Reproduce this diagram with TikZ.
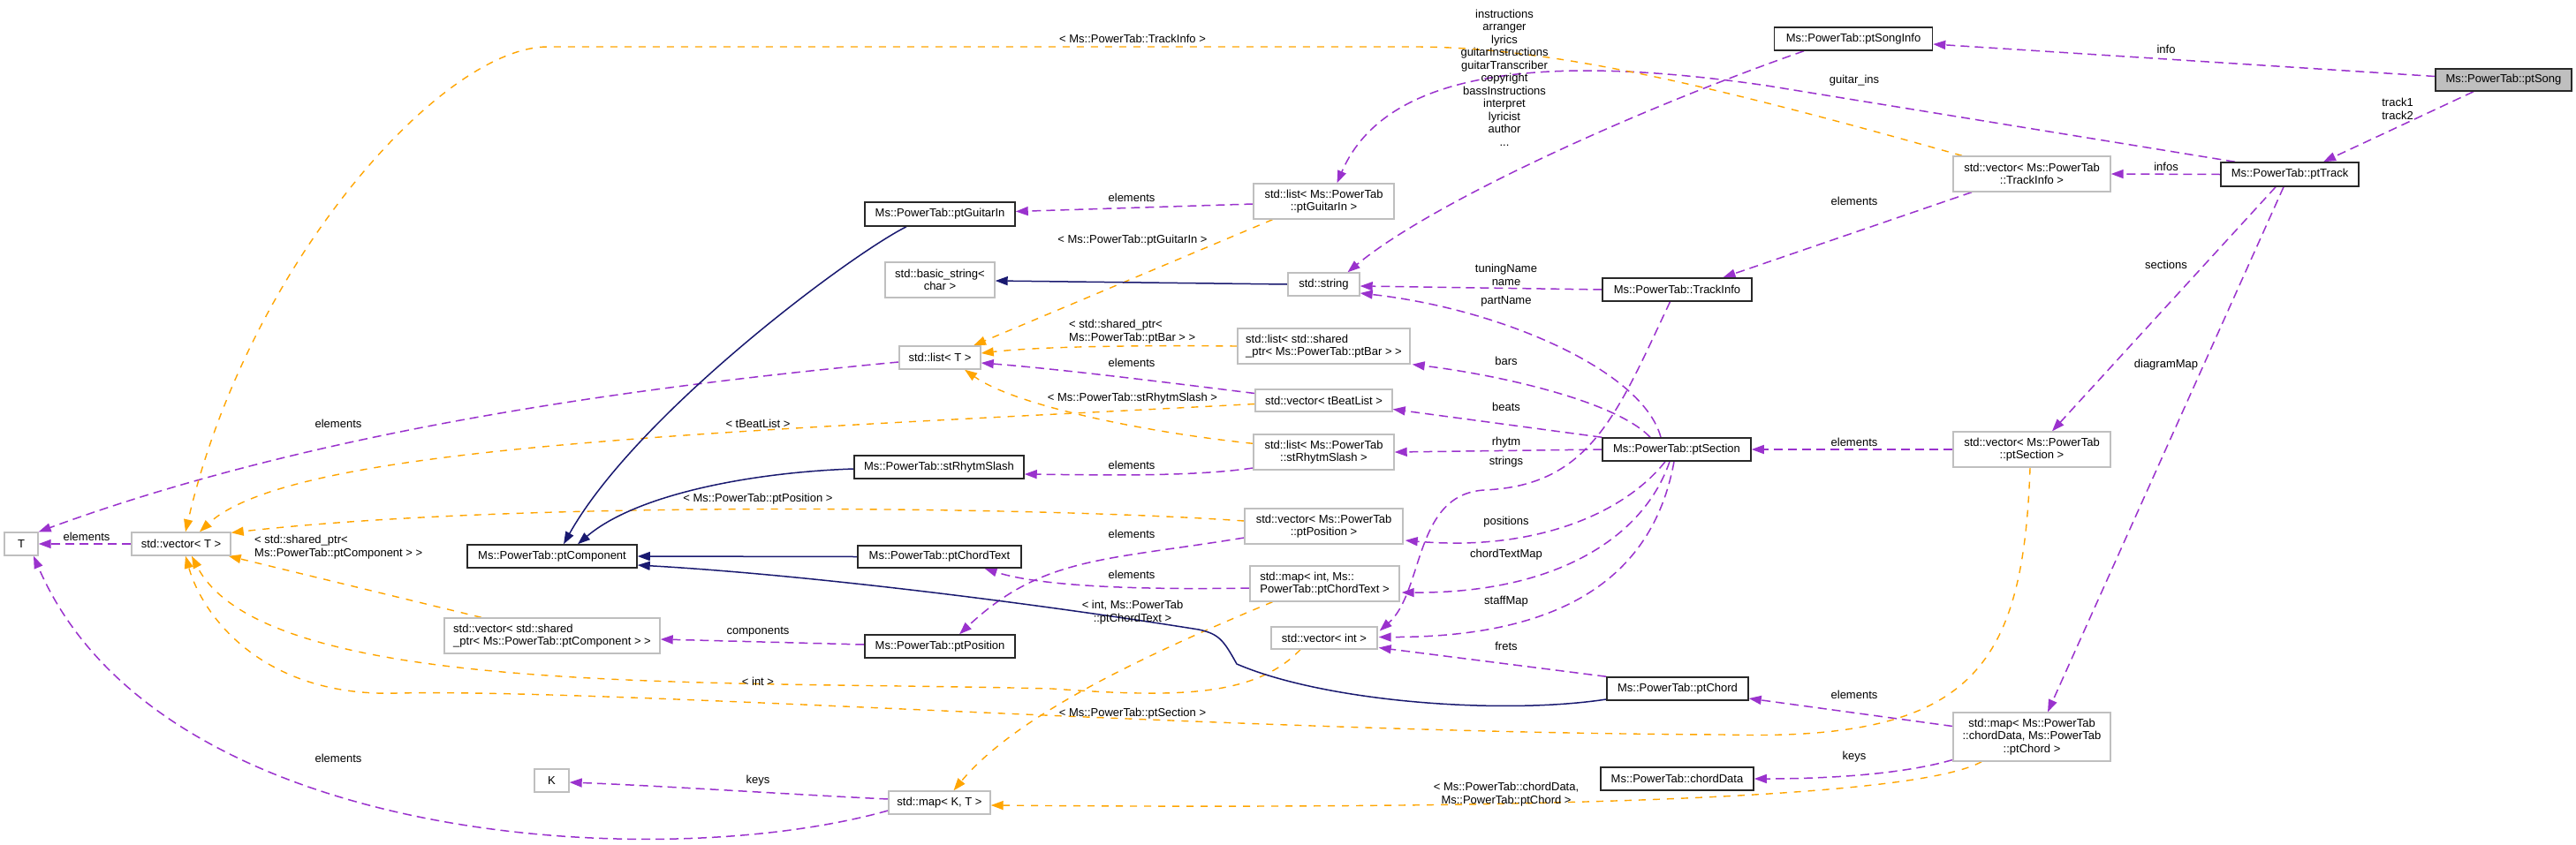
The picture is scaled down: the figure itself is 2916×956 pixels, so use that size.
\documentclass[tikz,border=0pt]{standalone}
\usepackage{fontspec}
\setmainfont{Liberation Sans}
\usetikzlibrary{arrows.meta,calc}
\definecolor{purp}{RGB}{154,50,205}
\definecolor{orng}{RGB}{255,165,0}
\definecolor{navyb}{RGB}{25,25,112}
\definecolor{greyC}{RGB}{191,191,191}
\definecolor{darkb}{RGB}{40,40,40}
\pgfdeclarelayer{bg}
\pgfsetlayers{bg,main}
\begin{document}
\begin{tikzpicture}[x=1pt,y=-1pt,
  every node/.style={font=\fontsize{13}{14.5}\selectfont},
  cls/.style={draw=darkb, line width=1.5pt, fill=white, inner sep=1pt},
  clsg/.style={draw=darkb, line width=1.5pt, fill=greyC, inner sep=1pt},
  ext/.style={draw=greyC, line width=1.4pt, fill=white, inner sep=1pt},
  lbl/.style={inner sep=0pt, align=center},
  usage/.style={draw=purp, line width=1.5pt, dash pattern=on 10pt off 6pt, -{Triangle[length=14pt,width=10pt]}},
  templ/.style={draw=orng, line width=1.4pt, dash pattern=on 8pt off 8pt, -{Triangle[length=14pt,width=10pt]}},
  inher/.style={draw=navyb, line width=1.5pt, -{Triangle[length=14pt,width=10pt]}},
]
\useasboundingbox (0,0) rectangle (2916,956);

% ---------- nodes ----------
\node[clsg, minimum width=154pt, minimum height=25pt] (song) at (2834,90.5) {Ms::PowerTab::ptSong};
\node[cls, minimum width=179pt, minimum height=26pt] (songinfo) at (2098,44) {Ms::PowerTab::ptSongInfo};
\node[cls, minimum width=156pt, minimum height=27pt] (track) at (2592,197.5) {Ms::PowerTab::ptTrack};
\node[ext, minimum width=178pt, minimum height=40pt, align=center] (vtinfo) at (2300,197) {std::vector< Ms::PowerTab\\::TrackInfo >};
\node[ext, minimum width=159pt, minimum height=40pt, align=center] (lgin) at (1498.5,228) {std::list< Ms::PowerTab\\::ptGuitarIn >};
\node[cls, minimum width=170pt, minimum height=27pt] (gin) at (1064,242.5) {Ms::PowerTab::ptGuitarIn};
\node[ext, minimum width=124pt, minimum height=40pt, align=center] (bstr) at (1064,317) {std::basic\_string<\\char >};
\node[ext, minimum width=81pt, minimum height=26pt] (str) at (1498.5,322) {std::string};
\node[cls, minimum width=169pt, minimum height=26pt] (tinfo) at (1898.5,328) {Ms::PowerTab::TrackInfo};
\node[ext, minimum width=92pt, minimum height=26pt] (listT) at (1064,405) {std::list< T >};
\node[ext, minimum width=195pt, minimum height=40pt, align=left] (lbar) at (1498.5,392) {std::list< std::shared\\\_ptr< Ms::PowerTab::ptBar > >};
\node[ext, minimum width=155pt, minimum height=25pt] (vbeat) at (1498.5,453.5) {std::vector< tBeatList >};
\node[ext, minimum width=159pt, minimum height=40pt, align=center] (lrs) at (1498.5,512) {std::list< Ms::PowerTab\\::stRhytmSlash >};
\node[cls, minimum width=192pt, minimum height=26pt] (rs) at (1063,529) {Ms::PowerTab::stRhytmSlash};
\node[cls, minimum width=168pt, minimum height=26pt] (sect) at (1898,509) {Ms::PowerTab::ptSection};
\node[ext, minimum width=178pt, minimum height=40pt, align=center] (vsect) at (2300,509) {std::vector< Ms::PowerTab\\::ptSection >};
\node[ext, minimum width=179pt, minimum height=40pt, align=center] (vpos) at (1498.5,596) {std::vector< Ms::PowerTab\\::ptPosition >};
\node[cls, minimum width=185pt, minimum height=25pt] (ctext) at (1063.5,630.5) {Ms::PowerTab::ptChordText};
\node[ext, minimum width=169pt, minimum height=40pt, align=left] (mctext) at (1499.5,661) {std::map< int, Ms::\\PowerTab::ptChordText >};
\node[cls, minimum width=170pt, minimum height=26pt] (pos) at (1064,732) {Ms::PowerTab::ptPosition};
\node[ext, minimum width=120pt, minimum height=25pt] (vint) at (1499,722.5) {std::vector< int >};
\node[cls, minimum width=160pt, minimum height=26pt] (chord) at (1899,780) {Ms::PowerTab::ptChord};
\node[cls, minimum width=173pt, minimum height=26pt] (cdata) at (1898.5,882) {Ms::PowerTab::chordData};
\node[ext, minimum width=115pt, minimum height=26pt] (mapKT) at (1063.5,909) {std::map< K, T >};
\node[ext, minimum width=178pt, minimum height=55pt, align=center] (mchord) at (2300,834.5) {std::map< Ms::PowerTab\\::chordData, Ms::PowerTab\\::ptChord >};
\node[ext, minimum width=38pt, minimum height=26pt] (T) at (24,616) {T};
\node[ext, minimum width=112pt, minimum height=26pt] (vecT) at (205,616) {std::vector< T >};
\node[cls, minimum width=192pt, minimum height=26pt] (comp) at (625,630) {Ms::PowerTab::ptComponent};
\node[ext, minimum width=244pt, minimum height=40pt, align=left] (vcomp) at (625,720) {std::vector< std::shared\\\_ptr< Ms::PowerTab::ptComponent > >};
\node[ext, minimum width=39pt, minimum height=26pt] (K) at (624.5,884) {K};

% ---------- labels ----------
\node[lbl] (l1) at (2452,56) {info};
\node[lbl] (l2) at (2714,123.5) {track1\\track2};
\node[lbl] (l3) at (2099,91) {guitar\_ins};
\node[lbl] (l4) at (1703,88) {instructions\\arranger\\lyrics\\guitarInstructions\\guitarTranscriber\\copyright\\bassInstructions\\interpret\\lyricist\\author\\...};
\node[lbl] (l5) at (2452,189) {infos};
\node[lbl] (l6) at (2099,228) {elements};
\node[lbl] (l7) at (1705,311.5) {tuningName\\name};
\node[lbl] (l8) at (1705,341) {partName};
\node[lbl] (l9) at (1705,409) {bars};
\node[lbl] (l10) at (1705,461) {beats};
\node[lbl] (l11) at (1705,501) {rhytm};
\node[lbl] (l12) at (1705,523) {strings};
\node[lbl] (l13) at (1705,591) {positions};
\node[lbl] (l14) at (1705,628) {chordTextMap};
\node[lbl] (l15) at (1705,681) {staffMap};
\node[lbl] (l16) at (1705,732) {frets};
\node[lbl] (l17) at (1281,224) {elements};
\node[lbl] (l18) at (1282,44) {< Ms::PowerTab::TrackInfo >};
\node[lbl] (l19) at (1282,272) {< Ms::PowerTab::ptGuitarIn >};
\node[lbl, align=left, anchor=west] (l20) at (1210,375.5) {< std::shared\_ptr<\\Ms::PowerTab::ptBar > >};
\node[lbl] (l21) at (1281,411) {elements};
\node[lbl] (l22) at (1282,451) {< Ms::PowerTab::stRhytmSlash >};
\node[lbl] (l23) at (1281,527) {elements};
\node[lbl] (l24) at (1281,605) {elements};
\node[lbl] (l25) at (1281,651) {elements};
\node[lbl] (l26) at (1282,693.5) {< int, Ms::PowerTab\\::ptChordText >};
\node[lbl] (l27) at (1282,808) {< Ms::PowerTab::ptSection >};
\node[lbl] (l28) at (1705,899.5) {< Ms::PowerTab::chordData,\\Ms::PowerTab::ptChord >};
\node[lbl] (l29) at (2099,501) {elements};
\node[lbl] (l30) at (2099,787) {elements};
\node[lbl] (l31) at (2099,857) {keys};
\node[lbl] (l32) at (2452,300) {sections};
\node[lbl] (l33) at (2452,413) {diagramMap};
\node[lbl] (l34) at (98,608) {elements};
\node[lbl, align=left, anchor=west] (l35) at (288,619.5) {< std::shared\_ptr<\\Ms::PowerTab::ptComponent > >};
\node[lbl] (l36) at (858,716) {components};
\node[lbl] (l37) at (858,772) {< int >};
\node[lbl] (l38) at (383,859) {elements};
\node[lbl] (l39) at (858,884) {keys};
\node[lbl] (l40) at (858,565) {< Ms::PowerTab::ptPosition >};
\node[lbl] (l41) at (383,480) {elements};
\node[lbl] (l42) at (858,480) {< tBeatList >};

% ---------- edges ----------
\begin{pgfonlayer}{bg}
\fill[white] (0,0) rectangle (2916,956);
% purple usage
\draw[usage] ($(song.west)+(0,-4)$) -- ($(songinfo.east)+(0,6)$);
\draw[usage] ($(song.south)+(-34,0)$) -- ($(track.north)+(38,0)$);
\draw[usage] ($(track.north)+(-62,0)$) -- (2000,97) .. controls (1760,62) and (1570,75) .. ($(lgin.north)+(15,0)$);
\draw[usage] ($(songinfo.south)+(-56,0)$) .. controls (1850,125) and (1620,230) .. ($(str.north)+(27,0)$);
\draw[usage] (track.west) -- (vtinfo.east);
\draw[usage] ($(vtinfo.south)+(-68,0)$) -- ($(tinfo.north)+(52,0)$);
\draw[usage] (tinfo.west) -- ($(str.east)+(0,2)$);
\draw[usage] ($(sect.north)+(-18,0)$) .. controls (1860,420) and (1700,350) .. ($(str.east)+(0,10)$);
\draw[usage] ($(sect.north)+(-30,0)$) .. controls (1830,455) and (1700,425) .. ($(lbar.south east)+(2,0)$);
\draw[usage] (sect.north west) -- ($(vbeat.east)+(0,10)$);
\draw[usage] (sect.west) -- (lrs.east);
\draw[usage] ($(tinfo.south)+(-8,0)$) .. controls (1830,470) and (1800,550) .. (1680,555) .. controls (1600,560) and (1612,670) .. ($(vint.east)+(2,-8)$);
\draw[usage] ($(sect.south)+(-13,0)$) .. controls (1840,580) and (1740,625) .. ($(vpos.east)+(2,16)$);
\draw[usage] ($(sect.south)+(-8,0)$) .. controls (1860,610) and (1760,672) .. ($(mctext.east)+(2,10)$);
\draw[usage] ($(sect.south)+(-3,0)$) .. controls (1870,660) and (1760,722) .. ($(vint.east)+(1,-1)$);
\draw[usage] (chord.north west) -- ($(vint.east)+(1,11)$);
\draw[usage] ($(lrs.west)+(0,18)$) .. controls (1350,540) and (1250,538) .. ($(rs.east)+(0,8)$);
\draw[usage] ($(vpos.west)+(0,13)$) .. controls (1250,635) and (1180,630) .. ($(pos.north)+(22,0)$);
\draw[usage] ($(mctext.west)+(0,5)$) .. controls (1300,668) and (1180,665) .. ($(ctext.south)+(51,0)$);
\draw[usage] (vsect.west) -- (sect.east);
\draw[usage] ($(track.south)+(-16,0)$) -- ($(vsect.north)+(23,0)$);
\draw[usage] ($(track.south)+(-7,0)$) -- ($(mchord.north)+(18,0)$);
\draw[usage] ($(mchord.west)+(0,-12)$) -- ($(chord.east)+(0,11)$);
\draw[usage] ($(mchord.west)+(0,26)$) .. controls (2150,878) and (2060,882) .. (cdata.east);
\draw[usage] ($(lgin.west)+(0,3)$) -- ($(gin.east)+(0,-3)$);
\draw[usage] ($(mapKT.west)+(0,-4)$) .. controls (900,900) and (750,890) .. ($(K.east)+(0,2)$);
\draw[usage] ($(mapKT.west)+(0,9)$) .. controls (750,990) and (180,960) .. ($(T.south)+(14,0)$);
\draw[usage] ($(listT.west)+(0,5)$) .. controls (700,440) and (350,490) .. (T.north east);
\draw[usage] (vecT.west) -- (T.east);
\draw[usage] ($(vbeat.west)+(0,-8)$) .. controls (1320,433) and (1200,418) .. ($(listT.east)+(0,6)$);
\draw[usage] ($(pos.west)+(0,-2)$) -- ($(vcomp.east)+(0,4)$);
% orange template
\draw[templ] ($(vtinfo.north)+(-79,0)$) .. controls (1950,100) and (1760,53) .. (1600,53) -- (620,53) .. controls (500,53) and (280,300) .. ($(vecT.north)+(5,0)$);
\draw[templ] ($(lgin.south)+(-58,0)$) -- ($(listT.north)+(38,0)$);
\draw[templ] (lbar.west) .. controls (1300,391) and (1180,392) .. ($(listT.east)+(0,-5)$);
\draw[templ] ($(lrs.north west)+(0,11)$) .. controls (1300,490) and (1150,460) .. ($(listT.south)+(28,0)$);
\draw[templ] ($(vbeat.west)+(0,4)$) .. controls (800,490) and (330,505) .. ($(vecT.north)+(21,0)$);
\draw[templ] ($(vpos.west)+(0,-6)$) .. controls (1200,575) and (600,565) .. ($(vecT.north east)+(0,1)$);
\draw[templ] ($(vcomp.north)+(-80,0)$) -- ($(vecT.south east)+(-3,0)$);
\draw[templ] ($(vint.south)+(-27,0)$) .. controls (1420,790) and (1330,790) .. (1191,780) .. controls (800,770) and (300,790) .. ($(vecT.south)+(12,0)$);
\draw[templ] ($(vsect.south)+(-2,0)$) .. controls (2290,760) and (2230,840) .. (1950,832) .. controls (1400,830) and (700,780) .. (450,785) .. controls (300,790) and (230,700) .. ($(vecT.south)+(5,0)$);
\draw[templ] ($(mctext.south)+(-59,0)$) .. controls (1300,740) and (1150,810) .. ($(mapKT.north)+(16,0)$);
\draw[templ] ($(mchord.south)+(-57,0)$) .. controls (2150,915) and (1500,915) .. ($(mapKT.east)+(0,3)$);
% navy inheritance
\draw[inher] ($(gin.south)+(-38,0)$) .. controls (960,290) and (720,470) .. ($(comp.north)+(13,0)$);
\draw[inher] ($(rs.west)+(0,2)$) .. controls (850,535) and (720,560) .. ($(comp.north)+(29,0)$);
\draw[inher] (ctext.west) -- (comp.east);
\draw[inher] ($(chord.west)+(0,12)$) .. controls (1700,810) and (1500,795) .. (1400,752) .. controls (1385,725) and (1380,718) .. (1357,713) .. controls (1150,680) and (900,650) .. ($(comp.east)+(0,10)$);
\draw[inher] (str.west) -- ($(bstr.east)+(0,1)$);
\end{pgfonlayer}
\end{tikzpicture}
\end{document}
